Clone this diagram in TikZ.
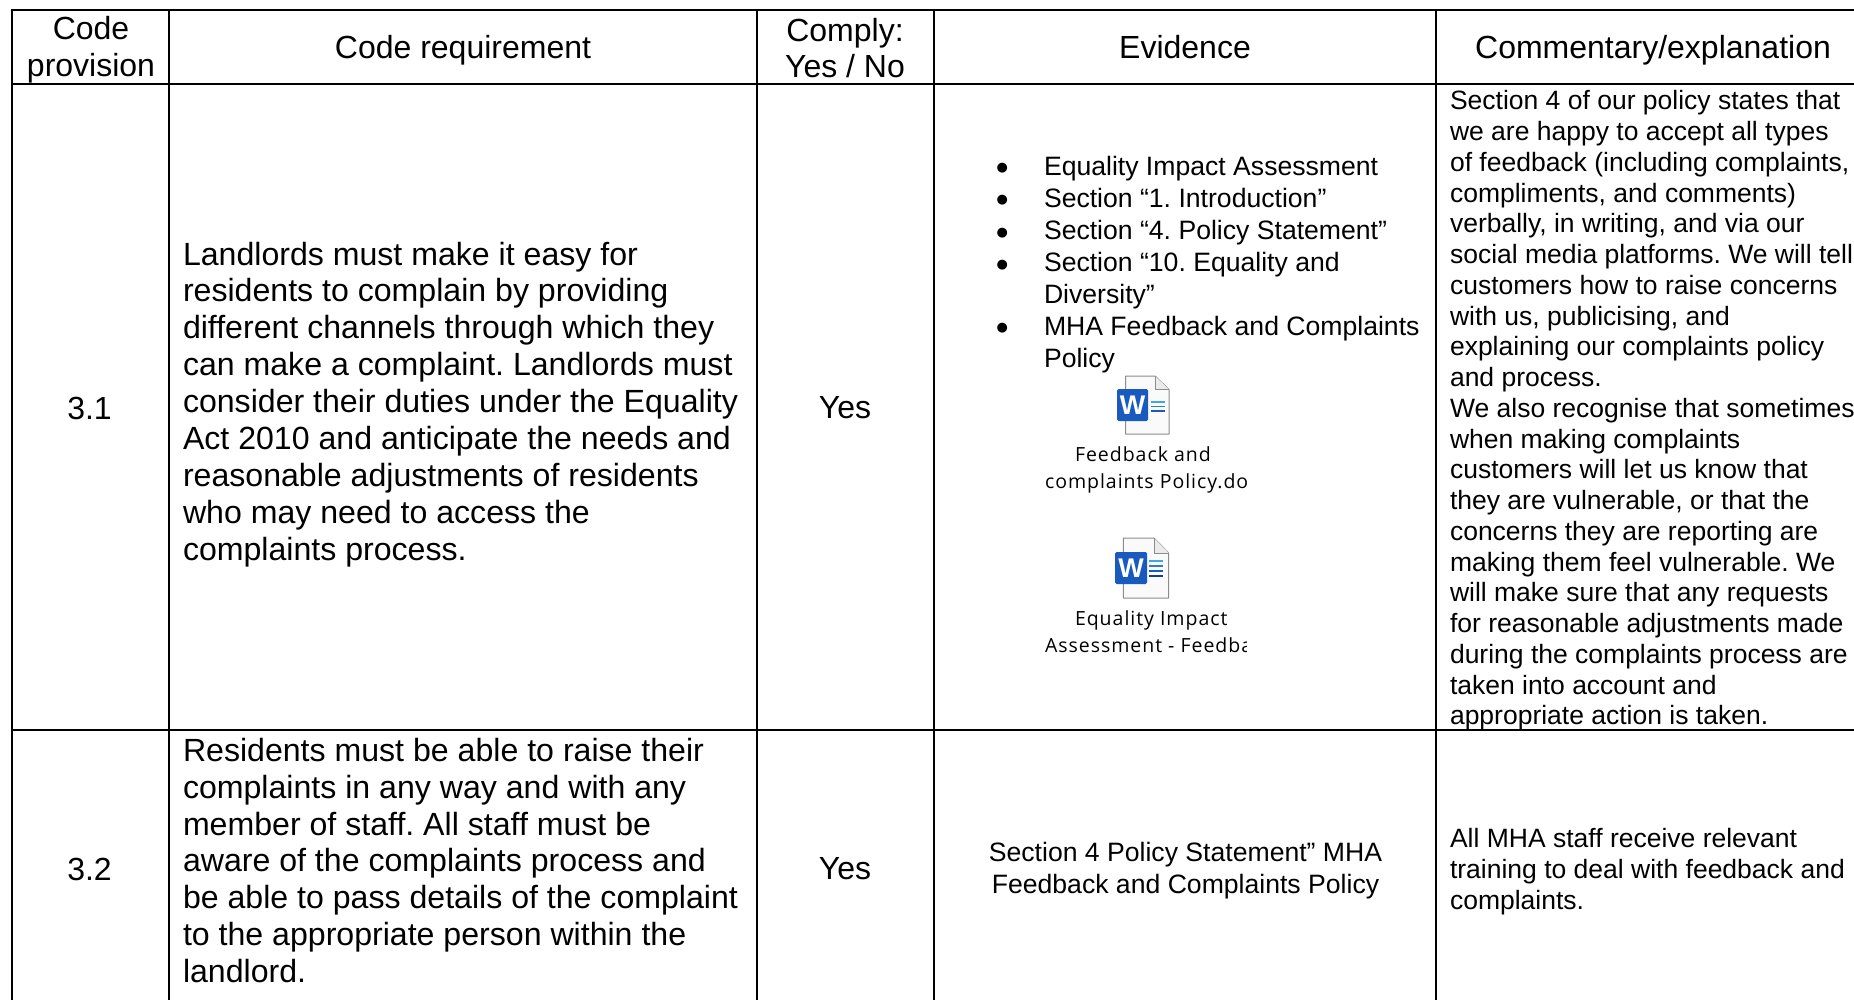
\documentclass[tikz,border=0pt]{standalone}
\usepackage{fontspec}
\setmainfont{Liberation Sans}
\newfontfamily\iconfont[LetterSpace=5]{Open Sans}
\newfontfamily\bulfont{DejaVu Sans}
\definecolor{ink}{HTML}{000000}
\definecolor{wordblue}{HTML}{185ABD}
\tikzset{
  x=1pt,y=-1pt,
  rule/.style={line width=1.9pt,black,line cap=rect},
  txt/.style={inner sep=0pt,outer sep=0pt,text=ink},
  hdr/.style={txt,align=center,font=\fontsize{32}{36.6}\selectfont},
  cel/.style={txt,align=center,font=\fontsize{32}{36.5}\selectfont},
  req/.style={txt,align=left,anchor=west,font=\fontsize{32.1}{36.9}\selectfont},
  com/.style={txt,align=left,anchor=west,font=\fontsize{26.5}{30.75}\selectfont},
  evi/.style={txt,align=left,anchor=west,font=\fontsize{26.6}{31.9}\selectfont},
  evc/.style={txt,align=center,font=\fontsize{26.6}{31.8}\selectfont},
  bul/.style={txt,font=\bulfont\fontsize{13}{13}\selectfont},
  ico/.style={txt,align=left,anchor=west,font=\iconfont\fontsize{19.5}{27}\selectfont},
  page/.style={draw=black!45,fill=black!2,line width=1pt,line join=round},
  wbox/.style={fill=wordblue,rounded corners=1.5pt},
  wlet/.style={inner sep=0pt,text=white,font=\bfseries\fontsize{27}{27}\selectfont},
}
\begin{document}
\frenchspacing
\begin{tikzpicture}
\useasboundingbox (0,0) rectangle (1854,1000);
\fill[white] (0,0) rectangle (1854,1000);
% table rules
\draw[rule] (12,10) -- (1854,10);
\draw[rule] (12,84) -- (1854,84);
\draw[rule] (12,730) -- (1854,730);
\foreach \cx in {12,169,757,934,1436} \draw[rule] (\cx,10) -- (\cx,1000);
% header
\node[hdr] (h1) at (91,50) {Code\\provision};
\node[hdr,anchor=base] (h2) at (463,59) {Code requirement};
\node[hdr] (h3) at (845,48) {Comply:\\Yes / No};
\node[hdr,anchor=base] (h4) at (1185,59) {Evidence};
\node[hdr,anchor=base] (h5) at (1653,59) {Commentary/explanation};
% row 1
\node[cel] (c1) at (89.5,408) {3.1};
\node[req] (r1) at (183,404.3) {Landlords must make it easy for\\residents to complain by providing\\different channels through which they\\can make a complaint. Landlords must\\consider their duties under the Equality\\Act 2010 and anticipate the needs and\\reasonable adjustments of residents\\who may need to access the\\complaints process.};
\node[cel] (y1) at (845,408) {Yes};
\node[bul] (b1) at (1002.3,167.7) {●};
\node[bul] (b2) at (1002.3,200.3) {●};
\node[bul] (b3) at (1002.3,233.3) {●};
\node[bul] (b4) at (1002.3,265.3) {●};
\node[bul] (b5) at (1002.3,328) {●};
\node[evi] (e1) at (1044,264.5) {Equality Impact Assessment\\Section “1. Introduction”\\Section “4. Policy Statement”\\Section “10. Equality and\\Diversity”\\MHA Feedback and Complaints\\Policy};
% icon 1
\draw[page] (1125.7,376) -- (1155,376) -- (1169,389.5) -- (1169,434) -- (1125.7,434) -- cycle;
\draw[page,fill=black!8] (1155,376) -- (1155,389.5) -- (1169,389.5);
\fill[wbox] (1117,389) rectangle (1148,421);
\node[wlet] (w1) at (1132.5,405) {W};
\draw[line width=1.2pt,color={rgb,255:red,65;green,165;blue,238}] (1151,402) -- (1165,402);
\draw[line width=1.2pt,color={rgb,255:red,43;green,124;blue,211}] (1151,406.5) -- (1165,406.5);
\draw[line width=1.2pt,wordblue] (1151,411) -- (1165,411);
% icon 2
\draw[page] (1123.3,538) -- (1154,538) -- (1168.7,553) -- (1168.7,598) -- (1123.3,598) -- cycle;
\draw[page,fill=black!8] (1154,538) -- (1154,553) -- (1168.7,553);
\fill[wbox] (1115,552) rectangle (1147,584);
\node[wlet] (w2) at (1131,568) {W};
\draw[line width=1.2pt,color={rgb,255:red,65;green,165;blue,238}] (1149,561) -- (1163,561);
\draw[line width=1.2pt,color={rgb,255:red,43;green,124;blue,211}] (1149,566) -- (1163,566);
\draw[line width=1.2pt,wordblue] (1149,571) -- (1163,571);
\draw[line width=1.2pt,color={rgb,255:red,16;green,63;blue,145}] (1149,576) -- (1163,576);
% icon captions, cut off at their right edge as in the picture
\begin{scope}
\clip (1040,440) rectangle (1249,500);
\node[ico] (i1) at (1045,469.5) {\hspace*{30pt}Feedback and\\complaints Policy.doc};
\end{scope}
\begin{scope}
\clip (1040,602) rectangle (1246,665);
\node[ico] (i2) at (1045,632) {\hspace*{30pt}Equality Impact\\Assessment - Feedback};
\end{scope}
\node[com] (m1) at (1450,410.5) {Section 4 of our policy states that\\we are happy to accept all types\\of feedback (including complaints,\\compliments, and comments)\\verbally, in writing, and via our\\social media platforms. We will tell\\customers how to raise concerns\\with us, publicising, and\\explaining our complaints policy\\and process.\\We also recognise that sometimes\\when making complaints\\customers will let us know that\\they are vulnerable, or that the\\concerns they are reporting are\\making them feel vulnerable. We\\will make sure that any requests\\for reasonable adjustments made\\during the complaints process are\\taken into account and\\appropriate action is taken.};
% row 2
\node[cel] (c2) at (89.5,869) {3.2};
\node[req] (r2) at (183,860.5) {Residents must be able to raise their\\complaints in any way and with any\\member of staff. All staff must be\\aware of the complaints process and\\be able to pass details of the complaint\\to the appropriate person within the\\landlord.};
\node[cel] (y2) at (845,869) {Yes};
\node[evc] (e2) at (1185.5,871) {Section 4 Policy Statement” MHA\\Feedback and Complaints Policy};
\node[com] (m2) at (1450,871.5) {All MHA staff receive relevant\\training to deal with feedback and\\complaints.};
\end{tikzpicture}
\end{document}
